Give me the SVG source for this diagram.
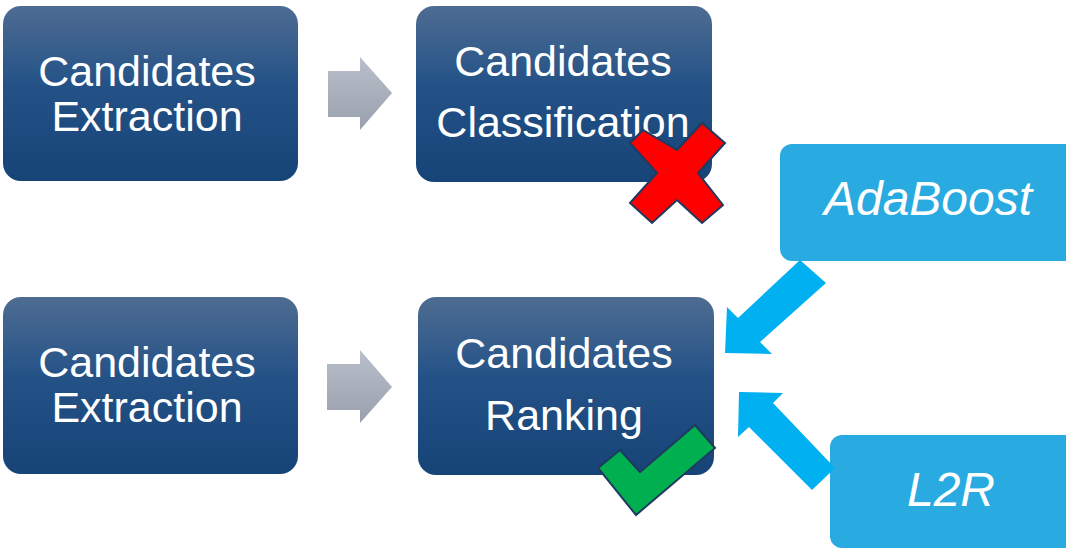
<svg xmlns="http://www.w3.org/2000/svg" width="1066" height="550" viewBox="0 0 1066 550">
<defs>
<linearGradient id="dark" x1="0" y1="0" x2="0" y2="1">
<stop offset="0" stop-color="#4e6c92"/>
<stop offset="0.45" stop-color="#245287"/>
<stop offset="1" stop-color="#164477"/>
</linearGradient>
<linearGradient id="gray" x1="0" y1="0" x2="0" y2="1">
<stop offset="0" stop-color="#b9bfca"/>
<stop offset="1" stop-color="#99a0ad"/>
</linearGradient>
<style>
.dbox{fill:url(#dark);}
.lbox{fill:#29abe2;}
.t{font-family:"Liberation Sans",Arial,sans-serif;font-size:43px;fill:#ffffff;text-anchor:middle;}
.ti{font-family:"Liberation Sans",Arial,sans-serif;font-size:48px;fill:#ffffff;text-anchor:middle;font-style:italic;}
.garrow{fill:url(#gray);}
.barrow{fill:#00b0f0;}
</style>
</defs>
<rect width="1066" height="550" fill="#ffffff"/>
<g id="extraction1">
<rect class="dbox" x="3" y="6" width="295" height="175" rx="18"/>
<text class="t" x="147" y="86">Candidates</text>
<text class="t" x="147" y="131">Extraction</text>
</g>
<g id="classification">
<rect class="dbox" x="416" y="6" width="296" height="176" rx="18"/>
<text class="t" x="563" y="76">Candidates</text>
<text class="t" x="563" y="137">Classification</text>
</g>
<g id="extraction2">
<rect class="dbox" x="3" y="297" width="295" height="177" rx="18"/>
<text class="t" x="147" y="377">Candidates</text>
<text class="t" x="147" y="422">Extraction</text>
</g>
<g id="ranking">
<rect class="dbox" x="418" y="297" width="296" height="178" rx="18"/>
<text class="t" x="564" y="368">Candidates</text>
<text class="t" x="564" y="430">Ranking</text>
</g>
<g id="adaboost">
<rect class="lbox" x="780" y="144" width="300" height="117" rx="12"/>
<text class="ti" x="928" y="215">AdaBoost</text>
</g>
<g id="l2r">
<rect class="lbox" x="830" y="435" width="250" height="113" rx="12"/>
<text class="ti" x="951" y="506">L2R</text>
</g>
<g id="connectors">
<polygon class="garrow" points="328,71 360,71 360,57 392,93 360,130 360,117 328,117"/>
<polygon class="garrow" points="327,364 360,364 360,350 392,387 360,423 360,410 327,410"/>
<polygon class="barrow" points="800,260 826,283 760,342 772,354 725,353 727,307 738,318"/>
<polygon class="barrow" points="835,468 812,490 749,427 738,437 739,392 783,393 773,403"/>
</g>
<g id="cross">
<polygon points="630,143 643,130 677,150 702,123 725,143 698,173 723,205 702,223 677,200 652,223 630,203 657,173" fill="#ff0000" stroke="#1f3a5f" stroke-width="2" stroke-linejoin="miter"/>
</g>
<g id="check">
<polygon points="598,468 620,450 640,472 695,425 715,448 636,515" fill="#00b050" stroke="#1f3a5f" stroke-width="2"/>
</g>
</svg>
